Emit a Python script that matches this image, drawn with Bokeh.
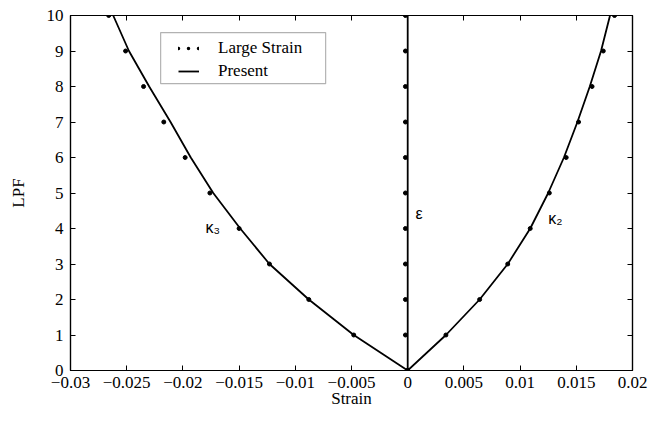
from bokeh.plotting import figure
from bokeh.models import LinearAxis, FixedTicker, Legend, LegendItem, BoxAnnotation, Range1d
from bokeh.core.properties import value
from bokeh.embed import file_html
from bokeh.resources import INLINE

# ---- data ----
lpf = [0, 1, 2, 3, 4, 5, 6, 7, 8, 9, 10]
k3_large = [0, -0.0048, -0.0088, -0.0123, -0.0150, -0.0176, -0.0198, -0.0217, -0.0235, -0.0251, -0.0266]
k3_present = [0, -0.0048, -0.0088, -0.0123, -0.0149, -0.0173, -0.0193, -0.0211, -0.0230, -0.0248, -0.0262]
k2_large = [0, 0.0034, 0.0064, 0.0089, 0.0109, 0.0126, 0.0141, 0.0152, 0.0164, 0.0174, 0.0184]
k2_present = [0, 0.0034, 0.0064, 0.0089, 0.0109, 0.0125, 0.0139, 0.0151, 0.0162, 0.0172, 0.0180]
eps_large = [0, -0.0002, -0.0002, -0.0002, -0.0002, -0.0002, -0.0002, -0.0002, -0.0002, -0.0002, -0.0002]
eps_present = [0, 0, 0, 0, 0, 0, 0, 0, 0, 0, 0]

x_ticks = [-0.03, -0.025, -0.02, -0.015, -0.01, -0.005, 0, 0.005, 0.01, 0.015, 0.02]
x_tick_labels = ["\u22120.03", "\u22120.025", "\u22120.02", "\u22120.015", "\u22120.01", "\u22120.005",
                 "0", "0.005", "0.01", "0.015", "0.02"]
y_ticks = [0, 1, 2, 3, 4, 5, 6, 7, 8, 9, 10]

curve_labels = ["\u03ba\u2083", "\u03ba\u2082", "\u03b5"]
curve_label_x = [-0.0180, 0.0125, 0.0007]
curve_label_y = [4.04, 4.27, 4.43]

legend_labels = ["Large Strain", "Present"]

SERIF = "Liberation Serif"

p = figure(width=652, height=410, x_range=Range1d(-0.03, 0.02), y_range=Range1d(0, 10),
           output_backend="svg", toolbar_location=None,
           min_border_left=70, min_border_right=20, min_border_top=15, min_border_bottom=38)
p.grid.visible = False
p.outline_line_color = "black"
p.outline_line_width = 1.2
p.background_fill_color = "white"
p.border_fill_color = "white"

# extra axes (ticks only) on top and right
p.add_layout(LinearAxis(), "above")
p.add_layout(LinearAxis(), "right")

p.xaxis.ticker = FixedTicker(ticks=x_ticks)
p.yaxis.ticker = FixedTicker(ticks=y_ticks)
for ax in p.axis:
    ax.major_tick_in = 5
    ax.major_tick_out = 0
    ax.minor_tick_line_color = None
    ax.axis_line_color = "black"
    ax.axis_line_width = 1.2
    ax.major_tick_line_color = "black"
    ax.major_label_text_font = SERIF
    ax.major_label_text_font_size = "17px"
    ax.major_label_text_color = "black"
    ax.axis_label_text_font = SERIF
    ax.axis_label_text_font_size = "17px"
    ax.axis_label_text_font_style = "normal"
    ax.axis_label_text_color = "black"

p.below[0].major_label_overrides = {t: l for t, l in zip(x_ticks, x_tick_labels)}
p.below[0].axis_label = "Strain"
p.below[0].major_label_standoff = 6
p.below[0].axis_label_standoff = -2
p.left[0].axis_label = "LPF"
p.left[0].major_label_standoff = 7
p.left[0].axis_label_standoff = 16

for ax in (p.above[0], p.right[0]):
    ax.major_label_text_color = None
    ax.major_label_standoff = 0
    ax.axis_label = None

# ---- curves ----
line_kw = dict(line_color="black", line_width=1.8)
dot_kw = dict(size=4, color="black", marker="circle")

r_k3 = p.line(k3_present, lpf, **line_kw)
p.line(k2_present, lpf, **line_kw)
p.line(eps_present, lpf, **line_kw)
p.scatter(k3_large, lpf, **dot_kw)
p.scatter(k2_large, lpf, **dot_kw)
p.scatter(eps_large, lpf, **dot_kw)

p.text(x=curve_label_x, y=curve_label_y, text=curve_labels, text_font=value("Liberation Sans"),
       text_font_size="16px", text_color="black", text_align="left", text_baseline="middle")

# ---- legend ----
box = BoxAnnotation(left=-0.02198, right=-0.0073, bottom=8.08, top=9.52,
                    fill_color="white", fill_alpha=1.0, line_color="black", line_width=1.2)
p.add_layout(box)

# legend-only proxy (NaN data draws nothing in the plot) rendered as a dotted sample
proxy_dots = p.line(x=[float("nan")], y=[float("nan")], line_color="black", line_width=3.5,
                    line_dash="0 10", line_cap="round")
legend = Legend(items=[LegendItem(label=legend_labels[0], renderers=[proxy_dots]),
                       LegendItem(label=legend_labels[1], renderers=[r_k3])],
                location=(108, 289), border_line_color=None, background_fill_alpha=0,
                padding=0, margin=0, spacing=3, label_height=20, glyph_width=21, glyph_height=20,
                label_standoff=19, label_text_font=SERIF, label_text_font_size="17px",
                label_text_color="black")
p.add_layout(legend)

open("out.html", "w").write(file_html(p, INLINE))
